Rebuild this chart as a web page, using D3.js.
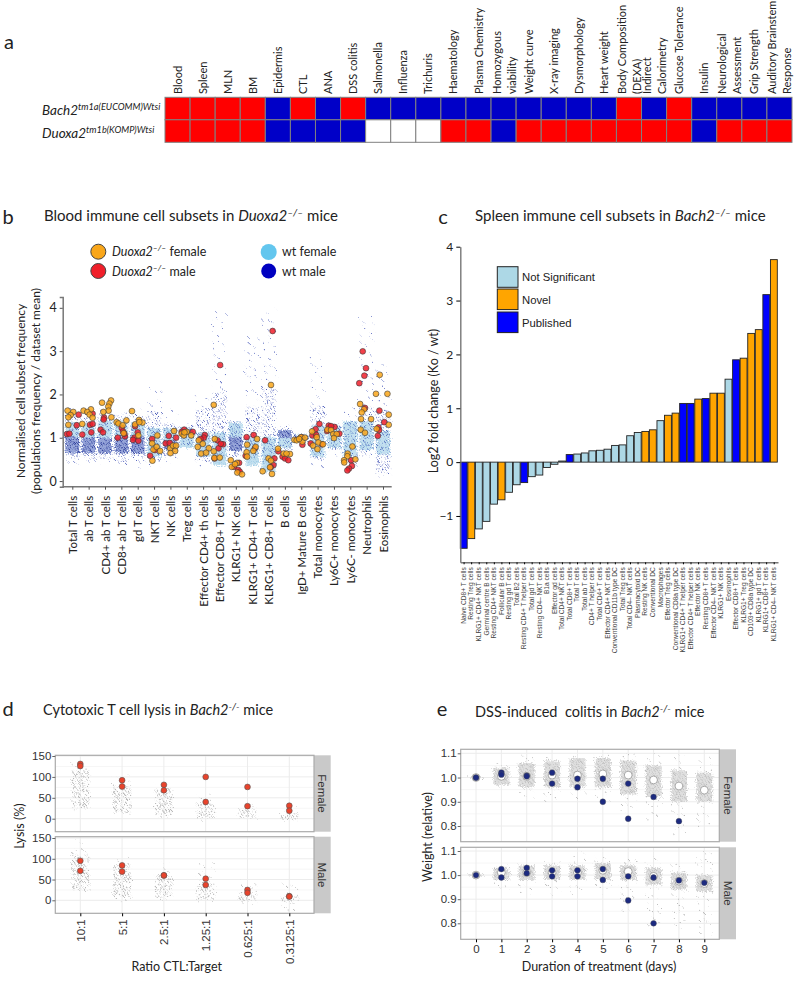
<!DOCTYPE html>
<html>
<head>
<meta charset="utf-8">
<script src="https://cdn.jsdelivr.net/npm/d3@7"></script>
<style>
  html, body { margin: 0; padding: 0; background: #fff; }
  svg { display: block; }
  text { fill: #222; font-family: Lato, sans-serif; }
  .hel text, text.hel { font-family: "Liberation Sans", Arial, sans-serif; }
</style>
</head>
<body>
<svg id="fig" width="800" height="981"></svg>
<script>
// ---- panel a: phenotype grid
const screens = ["Blood", "Spleen", "MLN", "BM", "Epidermis", "CTL", "ANA", "DSS colitis", "Salmonella", "Influenza",
  "Trichuris", "Haematology", "Plasma Chemistry", "Homozygous|viability", "Weight curve", "X-ray imaging", "Dysmorphology",
  "Heart weight", "Body Composition|(DEXA)", "Indirect|Calorimetry", "Glucose Tolerance", "Insulin", "Neurological|Assessment",
  "Grip Strength", "Auditory Brainstem|Response"];
// 1 = significant, 0 = not significant, null = not tested
const bach2Calls = [1, 1, 1, 1, 0, 1, 0, 1, 0, 0, 0, 0, 0, 0, 0, 0, 0, 0, 1, 0, 1, 0, 0, 0, 0];
const duoxa2Calls = [1, 1, 1, 1, 0, 0, 0, 0, null, null, null, 1, 1, 0, 1, 1, 1, 1, 1, 1, 1, 0, 1, 1, 1];

// ---- panel b: blood immune subsets
const subsets = ["Total T cells", "ab T cells", "CD4+ ab T cells", "CD8+ ab T cells", "gd T cells", "NKT cells", "NK cells",
  "Treg cells", "Effector CD4+ th cells", "Effector CD8+ T cells", "KLRG1+ NK cells", "KLRG1+ CD4+ T cells",
  "KLRG1+ CD8+ T cells", "B cells", "IgD+ Mature B cells", "Total monocytes", "Ly6C+ monocytes", "Ly6C- monocytes",
  "Neutrophils", "Eosinophils"];
// wild type clouds read as ranges per subset: [low, high]
const wtFemaleBand = [[.95, 1.32], [.95, 1.3], [.95, 1.38], [.95, 1.35], [.95, 1.3], [.55, 1.2], [.72, 1.2], [.75, 1.2], [.55, 1.1], [.35, 1.1],
  [.85, 1.32], [.35, 1], [.2, 1], [.75, 1.1], [.9, 1.05], [.55, 1.25], [.75, 1.25], [.55, 1.35], [.7, 1.35], [.6, 1.15]];
const wtMaleDense = [[.62, 1], [.62, .98], [.62, .98], [.62, 1], [.62, 1.02], null, [.7, .92], [1.05, 1.18], null, null,
  [.68, 1], null, null, [.97, 1.15], [.93, 1.02], null, null, null, null, null];
const wtMaleMid = [[.5, 1.5], [.5, 1.45], [.5, 1.55], [.45, 1.5], [.5, 1.5], [.45, 1.6], [.55, 1.3], [.8, 1.25], [.45, 1.65], [.55, 2],
  [.55, 1.35], [.5, 1.7], [.4, 2.1], [.7, 1.2], [.88, 1.05], [.5, 1.7], [.65, 1.3], [.35, 1.35], [.55, 1.65], [.15, 1.6]];
const wtSparse = [[.38, 1.65], [.38, 1.6], [.4, 1.7], [.4, 1.6], [.28, 1.65], [.33, 2.1], [.4, 1.65], [.75, 1.3], [.3, 1.95], [.3, 3.87],
  [.5, 1.4], [.22, 3.25], [.15, 3.9], [.6, 1.25], [.85, 1.07], [.3, 2.85], [.55, 1.33], [.25, 1.65], [.55, 3.7], [.1, 2.7]];
// knockout animals: [subset index + jitter, value]
const koFemale = [[-.29, 1.59], [.06, 1.56], [-.1, 1.49], [-.24, 1.44], [-.24, 1.27],
  [.69, 1.59], [1.14, 1.62], [.92, 1.56], [1.06, 1.5], [1.24, 1.43], [.61, 1.29],
  [1.82, 1.77], [2.37, 1.82], [2.27, 1.75], [2.2, 1.68], [2.22, 1.59], [1.9, 1.56], [2.39, 1.44],
  [2.71, 1.33], [2.82, 1.3], [3.08, 1.26], [3.31, 1.37], [3.14, 1.08],
  [3.65, 1.58], [4.08, 1.38], [4.29, 1.32], [3.84, 1.28], [4.1, 1.33], [4.04, 1.03],
  [5.2, 1.03], [4.88, .85], [4.96, .71], [5.16, .77], [5.37, .68], [4.9, .46],
  [6.22, 1.13], [5.98, .74], [6.16, .8], [6.35, .8], [6.29, .68], [6, .63],
  [6.69, 1.07], [6.82, 1.03], [7, 1.11], [7.27, 1.03], [6.86, 1.1],
  [7.73, .92], [7.67, .77], [7.98, .84], [8.35, .74], [7.88, .62], [8.18, .64],
  [8.65, 1.72], [8.71, .95], [8.65, .67], [8.69, .52], [9.02, .53],
  [9.69, .47], [9.75, .32], [10.07, .41], [10.09, .19], [10.38, .15], [9.95, .38],
  [10.69, .82], [10.66, .65], [11.21, .77], [11.3, .95], [11.07, .68], [10.69, .55],
  [12.15, 2.17], [12, .51], [12.15, .46], [12.09, .31], [11.64, .22], [12.21, .16],
  [12.58, .73], [12.93, .62], [13.31, .61], [13.1, .62],
  [13.58, .93], [13.72, .92], [13.99, .99], [14.07, .89], [14.23, .98], [13.87, .95],
  [14.66, 1.12], [14.72, .8], [14.95, .99], [15.05, .87], [14.99, .72], [15.33, .83],
  [15.6, 1.16], [15.82, 1.15], [15.96, 1.06], [16.17, 1.06], [16, .97],
  [17.13, .78], [16.84, .62], [16.82, .56], [16.62, .47], [17.31, .49], [16.63, .42],
  [17.6, 1.74], [17.84, 1.62], [17.7, 1.55], [17.66, 1.4], [18.27, 1.4], [17.64, 1.16], [17.9, 1.09],
  [18.8, 2.4], [18.57, 1.97], [19.27, 1.97], [19.35, 1.5], [19.35, 1.27], [18.61, 1.18]];
const koMale = [[.39, 1.5], [.27, 1.26], [-.33, 1.06], [-.18, 1.07],
  [1.24, 1.52], [1.08, 1.27], [1.24, 1.29], [1.16, 1.1], [.61, 1.05],
  [1.94, 1.43], [1.92, 1.39], [1.73, 1.16], [1.88, 1.1],
  [2.78, .98], [3.02, 1.2], [3.1, 1.12], [3.22, 1.01], [3.18, 1.07],
  [3.84, 1.24], [4, 1.1], [3.8, .98], [3.71, .93], [4.04, .91],
  [4.88, .95], [5.06, .7], [4.76, .57],
  [5.9, 1.02], [6.35, .98], [5.71, .85], [5.96, .86],
  [6.84, 1.16], [7.37, 1.11], [6.69, 1.11],
  [8.1, 1.04], [8.04, .98], [7.84, .95],
  [9.04, 2.62], [8.88, .92], [8.94, .74], [9.22, .83], [9.08, .84], [8.7, .51],
  [10.2, .41], [9.89, .32], [10.15, .25], [10.24, .21],
  [10.66, .99], [11.09, 1.04], [10.6, .57], [11.17, .74],
  [12.25, 3.39], [11.79, .92], [12.36, .51], [12.3, .36], [12.13, .31],
  [12.6, .67], [12.86, .55], [13.01, .51], [13.21, .47],
  [14.07, .82], [14.02, .99],
  [15.11, 1.29], [14.88, 1.17], [14.68, 1.03], [14.92, 1.04], [14.58, .85], [15.27, .83],
  [15.68, 1.25], [16.04, 1.22], [16.33, 1.07], [15.58, 1.13], [15.82, 1.24],
  [17.05, .47], [17.1, .34], [16.92, .28], [16.82, .24],
  [17.76, 2.93], [17.96, 2.55], [17.86, 2.38], [17.55, 2.21], [17.9, 1.65],
  [18.78, 1.59], [19.08, 1.33], [18.72, 1.21], [18.68, 1.02], [18.76, 1.15]];

// ---- panel c: spleen fold changes
const spleenCells = ["Naive CD8+ T cells", "Resting Treg cells", "KLRG1+ CD4+ NKT cells", "Germinal centre B cells", "Resting CD4+ NKT cells",
  "Follicular B cells", "Resting gd T cells", "Total B2 cells", "Resting CD4+ T helper cells", "Total gd T cells", "Resting CD4\u2013 NKT cells",
  "B1a cells", "Effector gd cells", "Total CD4+ NKT cells", "Total CD8+ T cells", "Total T cells", "Total ab T cells", "CD4+ T helper cells",
  "Total CD4+ T cells", "Effector CD4+ NKT cells", "Conventional CD11b type DC", "Total Treg cells", "Total CD4\u2013 NKT cells", "Plasmacytoid DC",
  "Resting NK cells", "Conventional DC", "Macrophages", "Effector Treg cells", "Conventional CD8a type DC", "KLRG1+ CD4+ T helper cells",
  "Effector CD4+ T helper cells", "Effector NK cells", "Resting CD8+ T cells", "Effector CD4\u2013 NKT cells", "KLRG1+ NK cells", "Eosinophils",
  "Effector CD8+ T cells", "KLRG1+ Treg cells", "CD103+ CD8a type DC", "KLRG1+ gd T cells", "KLRG1+ CD8+ T cells", "KLRG1+ CD4\u2013 NKT cells"];
const foldChange = [-1.6, -1.42, -1.24, -1.1, -.78, -.7, -.56, -.42, -.38, -.27, -.24, -.1, -.04, .02, .14, .15, .17, .21, .22, .24, .31, .32,
  .49, .55, .57, .6, .77, .87, .91, 1.09, 1.09, 1.17, 1.18, 1.28, 1.28, 1.54, 1.9, 1.93, 2.39, 2.46, 3.11, 3.76];
const foldClass = ["P", "N", "S", "S", "S", "N", "S", "S", "P", "S", "S", "S", "S", "S", "P", "S", "S", "S", "S", "S", "S", "S",
  "S", "S", "N", "N", "S", "N", "N", "P", "P", "N", "P", "N", "N", "S", "P", "N", "N", "N", "P", "N"];

// ---- panel d: CTL lysis
const ratios = ["10:1", "5:1", "2.5:1", "1.25:1", "0.625:1", "0.3125:1"];
const lysisFemale = [[131, 126], [92, 77], [81, 68], [100, 40], [76, 30], [31, 19]];
const lysisMale = [[95, 71], [84, 69], [60, 60], [52, 37], [25, 18], [10, 9]];
const lysisCloudFemale = [[25, 115], [15, 80], [8, 70], [2, 40], [0, 22], [-3, 12]];
const lysisSparseFemale = [[20, 135], [10, 105], [5, 85], [-5, 60], [-5, 35], [-8, 30]];
const lysisCloudMale = [[25, 110], [10, 85], [7, 60], [2, 40], [-2, 22], [-3, 12]];
const lysisSparseMale = [[20, 145], [-2, 105], [0, 90], [-5, 90], [-10, 50], [-25, 45]];

// ---- panel e: DSS colitis
const days = [0, 1, 2, 3, 4, 5, 6, 7, 8, 9];
const weightFemale = [[1, 1], [1.02, 1.012], [1.008, 1.005], [1.02, .975], [.995, .96], [.995, .9], [.975, .83], [.92], [.82], []];
const weightMale = [[1], [1.025, .99], [1.03, 1.008], [1.02, .995], [1.02, .995], [1.025, .98], [.995, .895], [.99, .8], [.978], [.968]];
const meanFemale = [1, 1.005, 1.005, 1.01, 1.01, 1.015, 1.01, .99, .965, .948];
const meanMale = [1, 1.01, 1.01, 1.01, 1.01, 1.02, 1.015, .995, .975, .965];
const weightCloudFemale = [[.998, 1.002], [.97, 1.04], [.96, 1.06], [.96, 1.07], [.96, 1.08], [.96, 1.08], [.93, 1.07], [.92, 1.05], [.9, 1.03], [.9, 1.02]];
const weightSparseFemale = [[.998, 1.002], [.955, 1.06], [.9, 1.09], [.9, 1.09], [.92, 1.09], [.9, 1.1], [.85, 1.1], [.82, 1.1], [.76, 1.09], [.79, 1.09]];
const weightCloudMale = [[.998, 1.002], [.98, 1.03], [.98, 1.04], [.98, 1.04], [.98, 1.04], [.98, 1.05], [.98, 1.04], [.96, 1.03], [.94, 1.01], [.93, 1]];
const weightSparseMale = [[.998, 1.002], [.94, 1.04], [.92, 1.05], [.91, 1.07], [.92, 1.09], [.92, 1.08], [.84, 1.07], [.78, 1.07], [.78, 1.05], [.75, 1.09]];

const svg = d3.select("#fig");
const defs = svg.append("defs");

// stipple textures stand in for the clouds of wild type animals
function stipple(id, n, colour, r, back) {
  const w = 71, h = 83;
  const p = defs.append("pattern").attr("id", id).attr("patternUnits", "userSpaceOnUse").attr("width", w).attr("height", h);
  if (back) p.append("rect").attr("width", w).attr("height", h).attr("fill", back);
  p.selectAll("circle").data(d3.range(n)).enter().append("circle")
    .attr("cx", (i) => ((i * 0.7548777) % 1) * w)
    .attr("cy", (i) => ((i * 0.5698403) % 1) * h)
    .attr("r", r)
    .attr("fill", colour);
}
stipple("bLight", 900, "#9ccbe5", 0.7, "#c3e0f0");
stipple("bDark", 1300, "#1c2c90", 0.55, "#97a6da");
stipple("bMid", 700, "#4152b4", 0.5, null);
stipple("bSparse", 110, "#5565bf", 0.6, null);
stipple("gDense", 1200, "#bcbcbc", 0.6, "#e0e0e0");
stipple("gDots", 750, "#b8b8b8", 0.7, null);
stipple("gSparse", 130, "#b0b0b0", 0.6, null);

const rough = defs.append("filter").attr("id", "rough").attr("x", "-10%").attr("y", "-10%").attr("width", "120%").attr("height", "120%");
rough.append("feTurbulence").attr("type", "fractalNoise").attr("baseFrequency", 0.8).attr("numOctaves", 2).attr("seed", 4).attr("result", "n");
rough.append("feDisplacementMap").attr("in", "SourceGraphic").attr("in2", "n").attr("scale", 7).attr("result", "d");
rough.append("feGaussianBlur").attr("in", "d").attr("stdDeviation", 0.3);

// text with italic and superscript runs, parts are [string, "i" | "s" | "is" | ""]
function rich(x, y, size, parts, parent) {
  const t = (parent || svg).append("text").attr("x", x).attr("y", y).style("font-size", size + "px");
  let up = false;
  parts.forEach(([s, k]) => {
    const isSup = k.includes("s");
    const span = t.append("tspan").text(s).style("font-style", k.includes("i") ? "italic" : "normal");
    if (isSup) span.style("font-size", size * 0.68 + "px");
    if (isSup !== up) span.attr("dy", isSup ? -size * 0.36 : size * 0.36);
    up = isSup;
  });
  return t;
}
function plain(x, y, size, s, rotate, anchor) {
  const t = svg.append("text").text(s).style("font-size", size + "px").attr("text-anchor", anchor || "middle");
  if (rotate) t.attr("transform", `translate(${x},${y}) rotate(${rotate})`);
  else t.attr("x", x).attr("y", y);
  return t;
}

// ---- a
const xa = d3.scaleBand().domain(d3.range(screens.length)).range([165, 792]);
const ya = d3.scaleBand().domain([0, 1]).range([97.3, 142.3]);
const callColour = (c) => (c === null ? "#fff" : c ? "#ff0000" : "#0000c8");
[bach2Calls, duoxa2Calls].forEach((row, r) => {
  svg.append("g").selectAll("rect").data(row).enter().append("rect")
    .attr("x", (d, i) => xa(i)).attr("y", ya(r))
    .attr("width", xa.bandwidth()).attr("height", ya.bandwidth())
    .attr("fill", callColour).attr("stroke", "#808080").attr("stroke-width", 1);
});
screens.forEach((s, i) => {
  const lines = s.split("|");
  const cx = xa(i) + xa.bandwidth() / 2;
  lines.forEach((l, k) => {
    const off = lines.length === 1 ? 4 : (k === 0 ? -3 : 12);
    plain(cx + off, 94, 11, l, -90, "start");
  });
});
plain(9, 49, 20, "a");
rich(42, 115, 13.5, [["Bach2", "i"], ["tm1a(EUCOMM)Wtsi", "is"]]);
rich(42, 138, 13.5, [["Duoxa2", "i"], ["tm1b(KOMP)Wtsi", "is"]]);

// ---- b
const xb = d3.scaleLinear().domain([0, 19]).range([72.3, 383]);
const yb = d3.scaleLinear().domain([0, 4]).range([481, 304]);
const stepB = xb(1) - xb(0);
const bands = (parent, list, fill, half) => {
  parent.append("g").selectAll("rect").data(list.map((d, i) => ({ d, i })).filter((o) => o.d)).enter().append("rect")
    .attr("x", (o) => xb(o.i) - half * stepB).attr("width", half * 2 * stepB)
    .attr("y", (o) => yb(o.d[1])).attr("height", (o) => yb(o.d[0]) - yb(o.d[1]))
    .attr("fill", fill);
};
const cloudB = svg.append("g").attr("filter", "url(#rough)");
bands(cloudB, wtSparse, "url(#bSparse)", 0.46);
bands(cloudB, wtFemaleBand, "url(#bLight)", 0.42);
bands(cloudB, wtMaleMid, "url(#bMid)", 0.44);
bands(cloudB, wtMaleDense, "url(#bDark)", 0.42);

const dotsB = (data, fill) => {
  svg.append("g").selectAll("circle").data(data).enter().append("circle")
    .attr("cx", (d) => xb(d[0])).attr("cy", (d) => yb(d[1])).attr("r", 2.9)
    .attr("fill", fill).attr("fill-opacity", 0.85)
    .attr("stroke", "#3a3a3a").attr("stroke-width", 0.6);
};
dotsB(koMale, "#f01f2a");
dotsB(koFemale, "#f9a61a");

const axisLeftB = svg.append("g").attr("transform", "translate(62.7,0)")
  .call(d3.axisLeft(d3.scaleLinear().domain([-0.13, 4.25]).range([486.7, 297])).tickValues([0, 1, 2, 3, 4]).tickFormat(d3.format("d")).tickSize(3));
const axisBottomB = svg.append("g").attr("transform", "translate(0,486.7)")
  .call(d3.axisBottom(xb).tickValues(d3.range(subsets.length)).tickFormat((i) => subsets[i]).tickSize(3).tickSizeOuter(0));
axisBottomB.select(".domain").attr("d", "M62.7,0H391.7");
axisBottomB.selectAll("text").attr("transform", "rotate(-90)").attr("x", -9).attr("y", 0).attr("dy", "0.35em").attr("text-anchor", "end").style("font-size", "11.5px");
axisLeftB.selectAll("text").style("font-size", "12.5px").attr("x", -6);
[axisLeftB, axisBottomB].forEach((a) => {
  a.select(".domain").attr("stroke", "#777").attr("stroke-width", 1.5);
  a.selectAll(".tick line").attr("stroke", "#555");
});
plain(8, 224, 20, "b");
rich(44, 221, 15, [["Blood immune cell subsets in ", ""], ["Duoxa2", "i"], ["\u2013/\u2013", "is"], [" mice", ""]]);
plain(25, 391, 12, "Normalised cell subset frequency", -90);
plain(40, 391, 12, "(populations frequency / dataset mean)", -90);

const legendB = svg.append("g");
[["#f9a61a", 98.3, 251.7, 7.5, "#444"], ["#f01f2a", 98.3, 271, 7.5, "#444"], ["#63c6ee", 268.7, 252, 8, "none"], ["#0000c0", 268.7, 271, 7.5, "none"]]
  .forEach((c) => {
    legendB.append("circle").attr("cx", c[1]).attr("cy", c[2]).attr("r", c[3]).attr("fill", c[0]).attr("stroke", c[4]);
  });
rich(112, 255.5, 12.5, [["Duoxa2", "i"], ["\u2013/\u2013", "is"], [" female", ""]]);
rich(112, 275.5, 12.5, [["Duoxa2", "i"], ["\u2013/\u2013", "is"], [" male", ""]]);
plain(282, 255.5, 12.5, "wt female", 0, "start");
plain(282, 275.5, 12.5, "wt male", 0, "start");

// ---- c
const xc = d3.scaleBand().domain(d3.range(spleenCells.length)).range([460.3, 778]);
const yc = d3.scaleLinear().domain([-1.86, 4]).range([562.3, 246.7]);
const classColour = { S: "#add8e6", N: "#ffa500", P: "#0000ff" };
svg.append("g").selectAll("rect").data(foldChange).enter().append("rect")
  .attr("x", (d, i) => xc(i)).attr("width", xc.bandwidth() - 0.7)
  .attr("y", (d) => yc(Math.max(0, d))).attr("height", (d) => Math.abs(yc(d) - yc(0)))
  .attr("fill", (d, i) => classColour[foldClass[i]])
  .attr("stroke", "#222").attr("stroke-width", 0.9);
const axisLeftC = svg.append("g").attr("transform", "translate(460.3,0)")
  .call(d3.axisLeft(yc).tickValues([-1, 0, 1, 2, 3, 4]).tickFormat(d3.format("d")).tickSize(4).tickSizeOuter(0));
axisLeftC.selectAll("text").style("font-size", "12px").attr("x", -7);
const axisBottomC = svg.append("g").attr("class", "hel").attr("transform", "translate(0,562.3)")
  .call(d3.axisBottom(xc).tickFormat((i) => spleenCells[i]).tickSize(2).tickSizeOuter(0));
axisBottomC.selectAll("text").attr("transform", "rotate(-90)").attr("x", -5).attr("y", -0.5).attr("dy", "0.35em").attr("text-anchor", "end")
  .style("font-size", "6.6px").style("fill", "#444");
[axisLeftC, axisBottomC].forEach((a) => a.select(".domain").attr("stroke", "#777").attr("stroke-width", 1.4));
plain(443, 224, 20, "c");
rich(475, 221, 15, [["Spleen immune cell subsets in ", ""], ["Bach2", "i"], ["\u2013/\u2013", "is"], [" mice", ""]]);
plain(438, 401, 12.5, "Log2 fold change (Ko / wt)", -90);

const legendC = [["Not Significant", "S", 266.7], ["Novel", "N", 289], ["Published", "P", 312]];
legendC.forEach(([name, k, top]) => {
  svg.append("rect").attr("x", 497.3).attr("y", top).attr("width", 20.7).attr("height", 20.6)
    .attr("fill", classColour[k]).attr("stroke", "#222").attr("stroke-width", 1);
  plain(522, top + 14.5, 11.3, name, 0, "start").classed("hel", true);
});

// ---- facets for d and e
function facetFrame(x, y, left, right, stripRight, top, bottom, name, yTicks, fmt, minor) {
  const g = svg.append("g");
  g.append("rect").attr("x", right).attr("y", top).attr("width", stripRight - right).attr("height", bottom - top).attr("fill", "#c9c9c9");
  g.selectAll(".grid").data(yTicks.concat(minor)).enter().append("line")
    .attr("x1", left).attr("x2", right).attr("y1", (d) => y(d)).attr("y2", (d) => y(d))
    .attr("stroke", (d) => (yTicks.includes(d) ? "#ececec" : "#f6f6f6"));
  g.selectAll(".gridv").data(x.domain()).enter().append("line")
    .attr("y1", top).attr("y2", bottom).attr("x1", (d) => x(d)).attr("x2", (d) => x(d)).attr("stroke", "#ececec");
  g.append("text").attr("class", "hel").text(name).attr("text-anchor", "middle").style("font-size", "11.5px").style("fill", "#333")
    .attr("transform", `translate(${(right + stripRight) / 2 - 4},${(top + bottom) / 2}) rotate(90)`);
  const ax = svg.append("g").attr("class", "hel").attr("transform", `translate(${left},0)`)
    .call(d3.axisLeft(y).tickValues(yTicks).tickFormat(fmt).tickSize(3).tickSizeOuter(0));
  ax.select(".domain").remove();
  ax.selectAll("text").style("font-size", "11.5px").style("fill", "#333").attr("x", -4);
  ax.selectAll(".tick line").attr("stroke", "#666");
  return () => {
    g.append("rect").attr("x", left).attr("y", top).attr("width", right - left).attr("height", bottom - top)
      .attr("fill", "none").attr("stroke", "#aaa").attr("stroke-width", 1.2);
  };
}
function facetCloud(x, y, keys, dense, sparse, half, denseFill) {
  const g = svg.append("g").attr("filter", "url(#rough)");
  g.selectAll(".s").data(sparse).enter().append("rect")
    .attr("x", (d, i) => x(keys[i]) - half).attr("width", half * 2)
    .attr("y", (d) => y(d[1])).attr("height", (d) => y(d[0]) - y(d[1])).attr("fill", "url(#gSparse)");
  g.selectAll(".d").data(dense).enter().append("rect")
    .attr("x", (d, i) => x(keys[i]) - half).attr("width", half * 2)
    .attr("y", (d) => y(d[1])).attr("height", (d) => y(d[0]) - y(d[1])).attr("fill", denseFill);
}

// ---- d
const xd = d3.scalePoint().domain(ratios).range([80.3, 289.3]);
const facetsD = [
  { name: "Female", top: 755.3, bottom: 831.7, y: d3.scaleLinear().domain([0, 150]).range([818.7, 756]), dots: lysisFemale, dense: lysisCloudFemale, sparse: lysisSparseFemale },
  { name: "Male", top: 836.7, bottom: 913.3, y: d3.scaleLinear().domain([0, 150]).range([900.3, 838]), dots: lysisMale, dense: lysisCloudMale, sparse: lysisSparseMale },
];
facetsD.forEach((f) => {
  const close = facetFrame(xd, f.y, 55.3, 314, 330.7, f.top, f.bottom, f.name, [0, 50, 100, 150], d3.format("d"), [25, 75, 125]);
  facetCloud(xd, f.y, ratios, f.dense, f.sparse, 9, "url(#gDots)");
  ratios.forEach((r, i) => {
    svg.append("g").selectAll("circle").data(f.dots[i]).enter().append("circle")
      .attr("cx", xd(r)).attr("cy", (d) => f.y(d)).attr("r", 2.9)
      .attr("fill", "#e8432c").attr("stroke", "#555").attr("stroke-width", 0.6);
  });
  close();
});
const axisD = svg.append("g").attr("class", "hel").attr("transform", "translate(0,913.3)").call(d3.axisBottom(xd).tickSize(3).tickSizeOuter(0));
axisD.select(".domain").remove();
axisD.selectAll("text").attr("transform", "rotate(-90)").attr("x", -6).attr("y", 0).attr("dy", "0.35em").attr("text-anchor", "end").style("font-size", "11.5px").style("fill", "#333");
plain(8, 716, 20, "d");
rich(43, 715, 14.5, [["Cytotoxic T cell lysis in ", ""], ["Bach2", "i"], ["-/-", "is"], [" mice", ""]]);
plain(20, 826, 12.5, "Lysis (%)", -90).attr("dy", "0.35em");
plain(176.7, 971, 12.5, "Ratio CTL:Target");

// ---- e
const xe = d3.scalePoint().domain(days).range([476, 704.3]);
const facetsE = [
  { name: "Female", top: 749.3, bottom: 841.7, y: d3.scaleLinear().domain([.8, 1.1]).range([826, 753.3]), dots: weightFemale, mean: meanFemale, dense: weightCloudFemale, sparse: weightSparseFemale },
  { name: "Male", top: 847.3, bottom: 939.3, y: d3.scaleLinear().domain([.8, 1.1]).range([923.3, 851]), dots: weightMale, mean: meanMale, dense: weightCloudMale, sparse: weightSparseMale },
];
facetsE.forEach((f) => {
  const close = facetFrame(xe, f.y, 460.7, 719.3, 736, f.top, f.bottom, f.name, [.8, .9, 1, 1.1], d3.format(".1f"), [.85, .95, 1.05]);
  facetCloud(xe, f.y, days, f.dense, f.sparse, 8, "url(#gDense)");
  svg.append("g").selectAll("circle").data(f.mean).enter().append("circle")
    .attr("cx", (d, i) => xe(days[i])).attr("cy", (d) => f.y(d)).attr("r", 3.9)
    .attr("fill", "#fff").attr("stroke", "#8a8a8a").attr("stroke-width", 0.7);
  days.forEach((day, i) => {
    svg.append("g").selectAll("circle").data(f.dots[i]).enter().append("circle")
      .attr("cx", xe(day)).attr("cy", (d) => f.y(d)).attr("r", 2.9)
      .attr("fill", "#1c2a80").attr("stroke", "#555").attr("stroke-width", 0.4);
  });
  close();
});
const axisE = svg.append("g").attr("class", "hel").attr("transform", "translate(0,939.3)").call(d3.axisBottom(xe).tickSize(3).tickSizeOuter(0));
axisE.select(".domain").remove();
axisE.selectAll("text").style("font-size", "11.5px").style("fill", "#333");
plain(442, 716, 20, "e");
rich(475, 717, 14.5, [["DSS-induced  colitis in ", ""], ["Bach2", "i"], ["-/-", "is"], [" mice", ""]]).attr("xml:space", "preserve");
plain(428, 837, 12.5, "Weight (relative)", -90).attr("dy", "0.35em");
plain(599, 971, 12.5, "Duration of treatment (days)");
</script>
</body>
</html>
